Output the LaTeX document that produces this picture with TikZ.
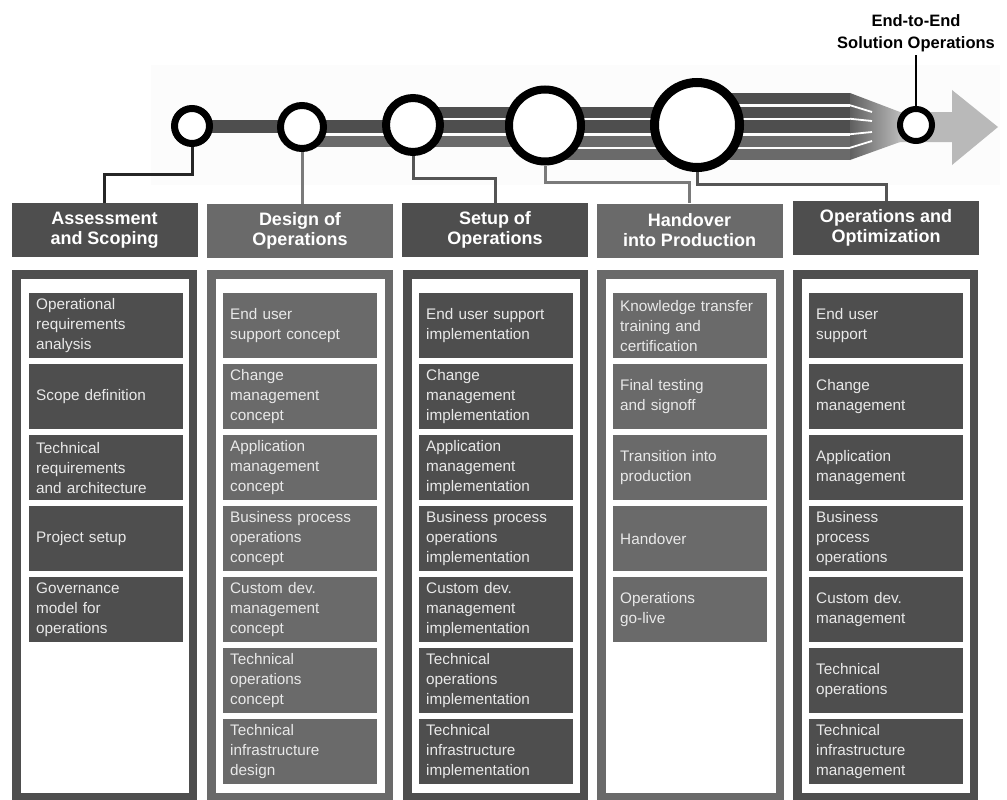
\documentclass[tikz,border=0pt]{standalone}
\usepackage{fontspec}
\setmainfont{Liberation Sans}
\definecolor{darkbox}{HTML}{4E4E4E}
\definecolor{midbox}{HTML}{6A6A6A}
\definecolor{paletext}{HTML}{E9E9E9}
\definecolor{arrowgray}{HTML}{B9B9B9}
\definecolor{linkdark}{HTML}{555555}
\definecolor{linkmid}{HTML}{7A7A7A}
\tikzset{
  ring/.style = {circle, draw=black, fill=white, minimum size=#1,
                 inner sep=0pt},
  ring/.default = 40pt,
  head/.style = {rectangle, fill=#1, text=white, minimum width=186pt,
                 minimum height=54pt, inner sep=0pt, align=center,
                 font=\fontsize{18}{20}\selectfont\bfseries},
  item/.style = {rectangle, fill=#1, text=paletext, anchor=north west,
                 minimum width=154pt, minimum height=65pt, text width=140pt,
                 inner xsep=7pt, inner ysep=0pt, align=left,
                 font=\fontsize{15.3}{20}\selectfont},
  link/.style = {line width=3pt, draw=#1}
}

\begin{document}
\begin{tikzpicture}[x=1pt,y=-1pt]
	\def \row{293}
	\def \pitch{71}
	
	\useasboundingbox (0,0) rectangle (1007,800);
	
	% Timeline backdrop
	\fill[gray!2] (151,65) rectangle (1000,185);
	
	% Strands
	\fill[darkbox] (192,120) rectangle (850,133);     % 1
	\fill[midbox]  (302,135.5) rectangle (850,146.5); % 2
	\fill[darkbox] (413,106.5) rectangle (850,117.5); % 3
	\fill[midbox]  (545,149) rectangle (850,160);     % 4
	\fill[darkbox] (695,93) rectangle (850,104);      % 5
	
	% Fan into the arrow
	\shade[left color=darkbox!90, right color=arrowgray] (850,93) -- (900,112) -- (900,142) -- (850,160) -- cycle;
	\draw[white, line width=1.8pt] (850,105.25) -- (872,112);
	\draw[white, line width=1.8pt] (850,118.75) -- (872,121);
	\draw[white, line width=1.8pt] (850,134.25) -- (872,132);
	\draw[white, line width=1.8pt] (850,147.75) -- (872,141);
	\fill[arrowgray] (898,112) -- (952,112) -- (952,90) -- (998,127) -- (952,165) -- (952,142) -- (898,142) -- cycle;
	
	% Milestones
	\node[ring=35pt, line width=7pt] (c1) at (192,126) {};
	\node[ring=43pt, line width=7pt] (c2) at (302,127) {};
	\node[ring=54pt, line width=8pt] (c3) at (413,125) {};
	\node[ring=72pt, line width=8pt] (c4) at (545,125.5) {};
	\node[ring=85pt, line width=9pt] (c5) at (697,125) {};
	\node[ring=32pt, line width=6pt] (c6) at (916,125) {};
	
	\node[align=center, font=\fontsize{16.5}{22}\selectfont\bfseries] (e2e) at (916,33) {End-to-End\\Solution Operations};
	\draw[line width=2pt] (e2e.south) -- (c6.north);
	
	% Phase headers
	\node[head=darkbox] (h1) at (104.5,230) {Assessment\\and Scoping};
	\node[head=midbox]  (h2) at (300,231)   {Design of\\Operations};
	\node[head=darkbox] (h3) at (495,230)   {Setup of\\Operations};
	\node[head=midbox]  (h4) at (689.5,230.5) {Handover\\into Production};
	\node[head=darkbox] (h5) at (886,228)   {Operations and\\Optimization};
	
	% Links
	\draw[link=black!85] (c1.south) -- ++(0,27) -| (h1.north);
	\draw[link=linkmid]  (c2.south) -- (c2.south |- h2.north);
	\draw[link=linkdark] (c3.south) -- ++(0,22) -| (h3.north);
	\draw[link=linkmid]  (c4.south) -- ++(0,17) -| (h4.north);
	\draw[link=linkdark] (c5.south) -- ++(0,12) -| (h5.north);
	
	% Column frames
	\draw[darkbox, line width=8.5pt] (16.25,274.25) rectangle (192.75,797);
	\draw[midbox, line width=8.5pt]  (211.25,274.25) rectangle (388.75,797);
	\draw[darkbox, line width=8.5pt] (407.25,274.25) rectangle (583.75,797);
	\draw[midbox, line width=8.5pt]  (601.25,274.25) rectangle (779.75,797);
	\draw[darkbox, line width=8.5pt] (797.25,274.25) rectangle (973.75,797);
	
	% Assessment and Scoping
	\node[item=darkbox] (a1) at (29,\row+0*\pitch) {Operational\\requirements\\analysis};
	\node[item=darkbox] (a2) at (29,\row+1*\pitch) {Scope definition};
	\node[item=darkbox] (a3) at (29,\row+2*\pitch) {Technical\\requirements\\and architecture};
	\node[item=darkbox] (a4) at (29,\row+3*\pitch) {Project setup};
	\node[item=darkbox] (a5) at (29,\row+4*\pitch) {Governance\\model for\\operations};
	
	% Design of Operations
	\node[item=midbox] (d1) at (223,\row+0*\pitch) {End user\\support concept};
	\node[item=midbox] (d2) at (223,\row+1*\pitch) {Change\\management\\concept};
	\node[item=midbox] (d3) at (223,\row+2*\pitch) {Application\\management\\concept};
	\node[item=midbox] (d4) at (223,\row+3*\pitch) {Business process\\operations\\concept};
	\node[item=midbox] (d5) at (223,\row+4*\pitch) {Custom dev.\\management\\concept};
	\node[item=midbox] (d6) at (223,\row+5*\pitch) {Technical\\operations\\concept};
	\node[item=midbox] (d7) at (223,\row+6*\pitch) {Technical\\infrastructure\\design};
	
	% Setup of Operations
	\node[item=darkbox] (s1) at (419,\row+0*\pitch) {End user support\\implementation};
	\node[item=darkbox] (s2) at (419,\row+1*\pitch) {Change\\management\\implementation};
	\node[item=darkbox] (s3) at (419,\row+2*\pitch) {Application\\management\\implementation};
	\node[item=darkbox] (s4) at (419,\row+3*\pitch) {Business process\\operations\\implementation};
	\node[item=darkbox] (s5) at (419,\row+4*\pitch) {Custom dev.\\management\\implementation};
	\node[item=darkbox] (s6) at (419,\row+5*\pitch) {Technical\\operations\\implementation};
	\node[item=darkbox] (s7) at (419,\row+6*\pitch) {Technical\\infrastructure\\implementation};
	
	% Handover into Production
	\node[item=midbox] (p1) at (613,\row+0*\pitch) {Knowledge transfer\\training and\\certification};
	\node[item=midbox] (p2) at (613,\row+1*\pitch) {Final testing\\and signoff};
	\node[item=midbox] (p3) at (613,\row+2*\pitch) {Transition into\\production};
	\node[item=midbox] (p4) at (613,\row+3*\pitch) {Handover};
	\node[item=midbox] (p5) at (613,\row+4*\pitch) {Operations\\go-live};
	
	% Operations and Optimization
	\node[item=darkbox] (o1) at (809,\row+0*\pitch) {End user\\support};
	\node[item=darkbox] (o2) at (809,\row+1*\pitch) {Change\\management};
	\node[item=darkbox] (o3) at (809,\row+2*\pitch) {Application\\management};
	\node[item=darkbox] (o4) at (809,\row+3*\pitch) {Business\\process\\operations};
	\node[item=darkbox] (o5) at (809,\row+4*\pitch) {Custom dev.\\management};
	\node[item=darkbox] (o6) at (809,\row+5*\pitch) {Technical\\operations};
	\node[item=darkbox] (o7) at (809,\row+6*\pitch) {Technical\\infrastructure\\management};
	
\end{tikzpicture}
\end{document}
